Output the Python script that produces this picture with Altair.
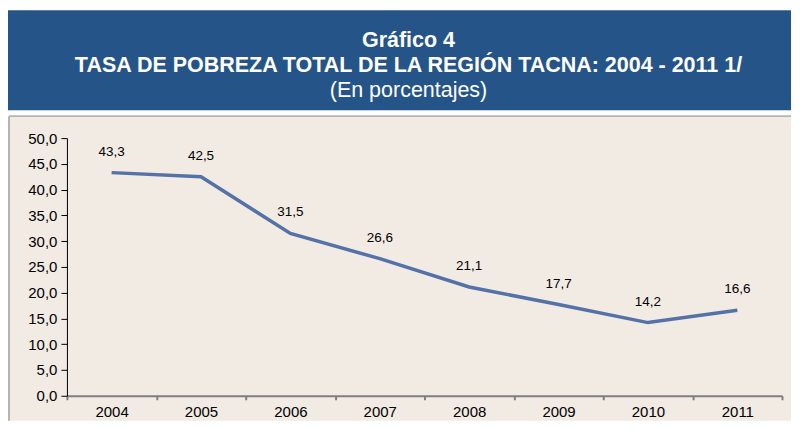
import altair as alt
import pandas as pd

years = ["2004", "2005", "2006", "2007", "2008", "2009", "2010", "2011"]
values = [43.3, 42.5, 31.5, 26.6, 21.1, 17.7, 14.2, 16.6]
y_ticks = [0, 5, 10, 15, 20, 25, 30, 35, 40, 45, 50]
title_lines = [
    "Gráfico 4",
    "TASA DE POBREZA TOTAL DE LA REGIÓN TACNA: 2004 - 2011 1/",
    "(En porcentajes)",
]

BLUE = "#255588"
BEIGE = "#F1EBE4"
LINE = "#5472A8"
BORDER = "#B4B4B4"
FONT = "Liberation Sans"

df = pd.DataFrame({"year": years, "value": values})
one = pd.DataFrame({"k": [0]})

W, H = 716, 258

header_bg = alt.Chart(one).mark_rect(color=BLUE).encode(
    x=alt.value(-59), x2=alt.value(725), y=alt.value(-128), y2=alt.value(-28)
)
panel_bg = alt.Chart(one).mark_rect(fill=BEIGE).encode(
    x=alt.value(-58), x2=alt.value(725), y=alt.value(-22), y2=alt.value(283)
)
border_top = alt.Chart(one).mark_rule(color=BORDER, strokeWidth=2).encode(
    x=alt.value(-58), x2=alt.value(725), y=alt.value(-22)
)
border_left = alt.Chart(one).mark_rule(color=BORDER, strokeWidth=2).encode(
    x=alt.value(-58), y=alt.value(-22), y2=alt.value(283)
)

def title_text(txt, ypos, bold):
    return alt.Chart(one).mark_text(
        font=FONT, fontSize=21.5, fontWeight="bold" if bold else "normal",
        color="white", align="center", baseline="alphabetic",
    ).encode(x=alt.value(342), y=alt.value(ypos), text=alt.value(txt))

t1 = title_text(title_lines[0], -91, True)
t2 = title_text(title_lines[1], -66, True)
t3 = title_text(title_lines[2], -41, False)

x_enc = alt.X(
    "year:O",
    scale=alt.Scale(type="band", paddingInner=0, paddingOuter=0),
    sort=years,
    axis=alt.Axis(
        title=None, labelAngle=0, labelFont=FONT, labelFontSize=15, labelColor="black",
        domainColor="#7F7F7F", domainWidth=2, tickColor="#7F7F7F", tickWidth=2,
        tickSize=4, tickBand="extent", labelPadding=5, zindex=1, grid=False,
    ),
)
y_enc = alt.Y(
    "value:Q",
    scale=alt.Scale(domain=[0, 50], nice=False),
    axis=alt.Axis(
        title=None, values=y_ticks, labelFont=FONT, labelFontSize=15, labelColor="black",
        labelExpr="replace(format(datum.value, '.1f'), '.', ',')",
        domainColor="black", domainWidth=1, tickColor="black", tickSize=6,
        labelPadding=4, zindex=1, grid=False,
    ),
)

line = alt.Chart(df).mark_line(color=LINE, strokeWidth=3.5).encode(x=x_enc, y=y_enc)
labels = alt.Chart(df).transform_calculate(
    lab="replace(format(datum.value, '.1f'), '.', ',')"
).mark_text(
    font=FONT, fontSize=13.5, color="black", baseline="alphabetic", dy=-17
).encode(x=x_enc, y=y_enc, text="lab:N")

chart = alt.layer(
    header_bg, panel_bg, border_top, border_left, t1, t2, t3, line, labels
).properties(
    width=W, height=H,
    padding={"top": 2, "left": 0, "right": 0, "bottom": 0},
    background="white",
).configure_view(stroke=None)

chart.save("out.html", embed_options={"renderer": "svg", "actions": False})
